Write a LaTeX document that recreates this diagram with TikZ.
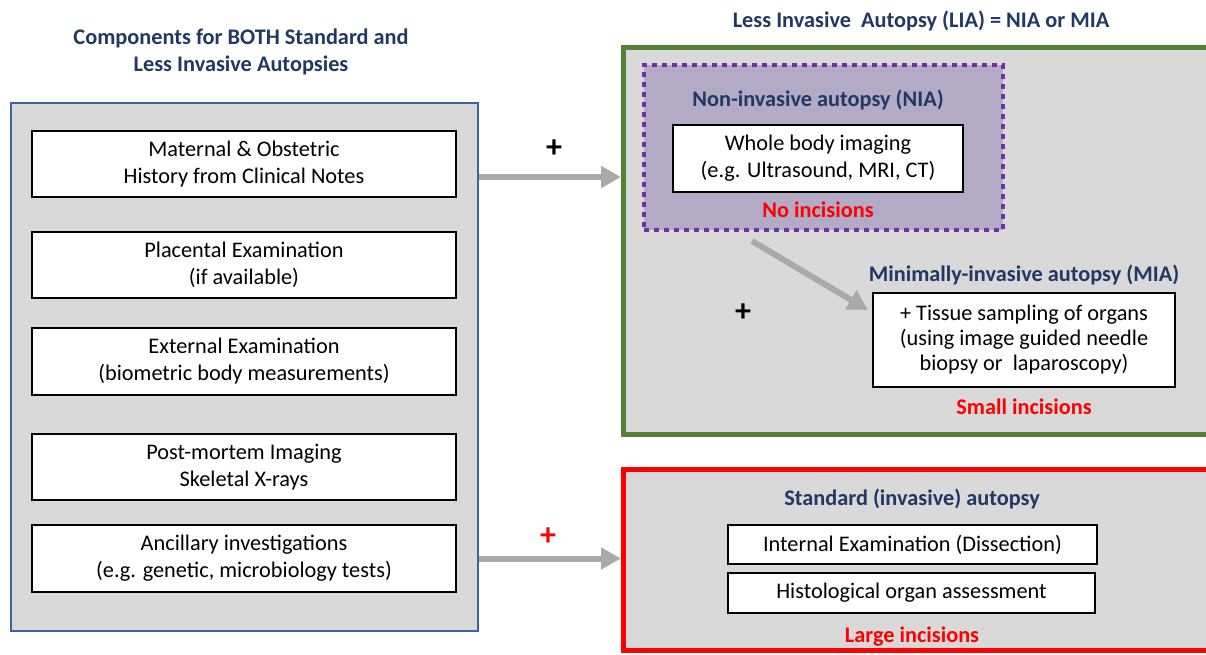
\documentclass[tikz,border=0pt]{standalone}
\usepackage{fontspec}
\setmainfont{Carlito}
\usetikzlibrary{arrows.meta}

\definecolor{navy}{HTML}{1F3864}
\definecolor{panelgray}{HTML}{D9D9D9}
\definecolor{panelblue}{HTML}{3B64A8}
\definecolor{liagreen}{HTML}{548235}
\definecolor{niapurple}{HTML}{7030A0}
\definecolor{niafill}{HTML}{B3AAC5}
\definecolor{arrowgray}{HTML}{A9A9A9}

\tikzset{
    itembox/.style={draw=black,line width=1.5pt,fill=white,inner sep=0pt,align=center},
    heading/.style={text=navy,font=\bfseries,align=center,inner sep=0pt},
    cutnote/.style={text=red,font=\bfseries,inner sep=0pt},
    plussign/.style={font=\fontsize{32}{32}\selectfont\bfseries,inner sep=0pt},
    fatarrow/.style={draw=arrowgray,line width=6pt,-{Triangle[length=20pt,width=21pt]}}
}

\begin{document}
\fontsize{22.3}{27}\selectfont
\begin{tikzpicture}[x=1pt,y=-1pt]
                \useasboundingbox (0,0) rectangle (1206,655);

                % Left panel: common components
                \node[heading] (commontitle) at (241,52) {Components for BOTH Standard and\\Less Invasive Autopsies};
                \node[draw=panelblue,line width=1.5pt,fill=panelgray,inner sep=0pt,
                      minimum width=467pt,minimum height=528pt] (common) at (244.5,367) {};
                \node[itembox,minimum width=424pt,minimum height=66pt] (history) at (244,164) {Maternal \& Obstetric\\History from Clinical Notes};
                \node[itembox,minimum width=424pt,minimum height=66pt] (placenta) at (244,265) {Placental Examination\\(if available)};
                \node[itembox,minimum width=424pt,minimum height=67pt] (external) at (244,361.5) {External Examination\\(biometric body measurements)};
                \node[itembox,minimum width=424pt,minimum height=66pt] (imaging) at (244,467) {Post-mortem Imaging\\Skeletal X-rays};
                \node[itembox,minimum width=424pt,minimum height=67pt] (ancillary) at (244,558.5) {Ancillary investigations\\(e.g. genetic, microbiology tests)};

                % Less invasive autopsy
                \node[heading] (liatitle) at (921,21) {Less Invasive\ \ Autopsy (LIA) = NIA or MIA};
                \node[draw=liagreen,line width=5pt,fill=panelgray,inner sep=0pt,
                      minimum width=586.5pt,minimum height=387pt] (lia) at (916.75,241) {};
                \node[draw=niapurple,line width=4.5pt,dash pattern=on 5pt off 5pt,fill=niafill,inner sep=0pt,
                      minimum width=359pt,minimum height=165pt] (nia) at (823.5,147.5) {};
                \node[heading] (niatitle) at (818,100) {Non-invasive autopsy (NIA)};
                \node[itembox,minimum width=290pt,minimum height=67pt] (wholebody) at (818,158.5) {Whole body imaging\\(e.g. Ultrasound, MRI, CT)};
                \node[cutnote] (nocut) at (818,210) {No incisions};

                \node[heading] (miatitle) at (1024,275) {Minimally-invasive autopsy (MIA)};
                \node[itembox,minimum width=302pt,minimum height=94pt,font=\fontsize{22.3}{25}\selectfont] (tissue) at (1024,340)
                     {+ Tissue sampling of organs\\(using image guided needle\\biopsy or\ \ laparoscopy)};
                \node[cutnote] (smallcut) at (1024,407) {Small incisions};

                % Standard autopsy
                \node[draw=red,line width=5pt,fill=panelgray,inner sep=0pt,
                      minimum width=586.5pt,minimum height=181.5pt] (sia) at (916.75,559.75) {};
                \node[heading] (siatitle) at (912,499) {Standard (invasive) autopsy};
                \node[itembox,minimum width=369pt,minimum height=39pt] (internal) at (912.5,544.5) {Internal Examination (Dissection)};
                \node[itembox,minimum width=367pt,minimum height=40pt] (histology) at (911.5,593) {Histological organ assessment};
                \node[cutnote] (largecut) at (912,637) {Large incisions};

                % Arrows
                \coordinate (diagfrom) at (752,241);
                \coordinate (diagto) at (868,310);
                \draw[fatarrow] (common.east |- 0,177) -- (lia.west |- 0,177);
                \draw[fatarrow] (common.east |- ancillary) -- (sia.west |- ancillary);
                \draw[fatarrow] (diagfrom) -- (diagto);

                \node[plussign] (plusa) at (554,149) {+};
                \node[plussign] (plusb) at (743,313) {+};
                \node[plussign,text=red] (plusc) at (548,537) {+};
\end{tikzpicture}
\end{document}
